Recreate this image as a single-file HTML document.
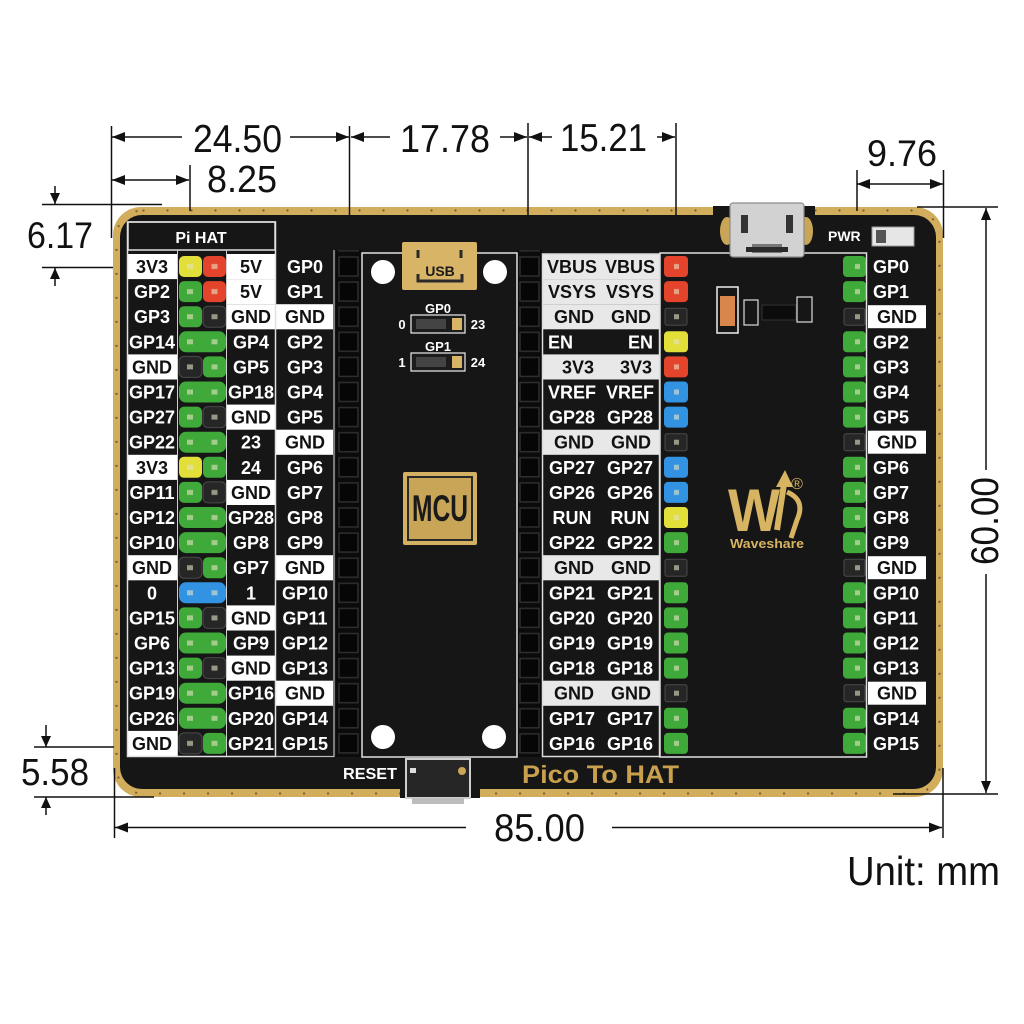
<!DOCTYPE html>
<html><head><meta charset="utf-8"><style>
html,body{margin:0;padding:0;background:#fff;}
svg{display:block}
text{font-family:"Liberation Sans",Arial,sans-serif;}
.w{fill:#fff;font-weight:bold;font-size:18px;text-anchor:middle}
.b{fill:#111;font-weight:bold;font-size:18px;text-anchor:middle}
.s{fill:#fff;font-weight:bold;font-size:18px;text-anchor:start}
.d{fill:#111;font-weight:normal}
.G{fill:#3fa93a}.R{fill:#e5442c}.Y{fill:#e2df3a}.B{fill:#3393e3}.K{fill:#262626;stroke:#4a4a4a;stroke-width:1}
.ln{stroke:#111;stroke-width:1.5;fill:none}
</style></head><body>
<svg width="1024" height="1024" viewBox="0 0 1024 1024" xmlns="http://www.w3.org/2000/svg">
<defs>
<pattern id="sockL" x="336" y="254" width="26" height="25.1" patternUnits="userSpaceOnUse"><rect x="3" y="3" width="19" height="19" fill="#060606" stroke="#2e2e2e" stroke-width="1.5"/></pattern>
<pattern id="sockR" x="517" y="254" width="26" height="25.1" patternUnits="userSpaceOnUse"><rect x="3" y="3" width="19" height="19" fill="#060606" stroke="#2e2e2e" stroke-width="1.5"/></pattern>
<pattern id="jd" x="178" y="254" width="24.5" height="25.1" patternUnits="userSpaceOnUse"><rect x="9" y="10" width="6" height="5" fill="#e6e2c4" opacity="0.6"/></pattern>
<pattern id="pd" x="664" y="254" width="24" height="25.1" patternUnits="userSpaceOnUse"><rect x="10" y="10" width="5" height="5" fill="#e6e2c4" opacity="0.6"/></pattern>
<pattern id="rd" x="843" y="254" width="23" height="25.1" patternUnits="userSpaceOnUse"><rect x="12" y="10" width="5" height="5" fill="#e6e2c4" opacity="0.6"/></pattern>
</defs>

<rect width="1024" height="1024" fill="#fff"/>

<!-- Board -->
<rect x="113" y="207" width="830" height="590" rx="28" fill="#d2ad5c"/>
<rect x="116.5" y="210.5" width="823" height="583" rx="26" fill="none" stroke="#7a6330" stroke-width="2" stroke-dasharray="2 22"/>
<rect x="120" y="215" width="816" height="574" rx="22" fill="#161616"/>
<rect x="713" y="206" width="102" height="12" fill="#161616"/>
<rect x="400" y="784" width="80" height="14" fill="#161616"/>

<!-- Left block frame -->
<rect x="128" y="222" width="147" height="28" fill="#161616" stroke="#e0e0e0" stroke-width="1.5"/>
<text x="201" y="243" style="fill:#fff;font-weight:bold;font-size:16px;text-anchor:middle">Pi HAT</text>

<!-- headers -->
<rect x="336" y="250" width="26" height="507" fill="#0b0b0b"/>
<rect x="336" y="250" width="26" height="507" fill="url(#sockL)"/>
<rect x="517" y="250" width="25" height="507" fill="#0b0b0b"/>
<rect x="517" y="250" width="25" height="507" fill="url(#sockR)"/>

<!-- Rows -->
<g transform="translate(0,254)">
<rect x="128" y="0" width="49" height="25.1" fill="#fff"/><text x="152" y="19" class="b">3V3</text>
<rect x="179" y="2" width="23" height="21" rx="5" class="Y"/><rect x="203" y="2" width="23" height="21" rx="5" class="R"/>
<rect x="227" y="0" width="48" height="25.1" fill="#fff"/><text x="251" y="19" class="b">5V</text>
<text x="305" y="19" class="w">GP0</text>
<rect x="543" y="0" width="116" height="25.1" fill="#e8e8e8"/><text x="572" y="19" class="b">VBUS</text><text x="630" y="19" class="b">VBUS</text>
<rect x="664" y="2" width="24" height="21" rx="4" class="R"/>
<rect x="843" y="2" width="23" height="21" rx="4" class="G"/><text x="873" y="19" class="s">GP0</text>
</g>
<g transform="translate(0,279.1)">
<text x="152" y="19" class="w">GP2</text>
<rect x="179" y="2" width="23" height="21" rx="5" class="G"/><rect x="203" y="2" width="23" height="21" rx="5" class="R"/>
<rect x="227" y="0" width="48" height="25.1" fill="#fff"/><text x="251" y="19" class="b">5V</text>
<text x="305" y="19" class="w">GP1</text>
<rect x="543" y="0" width="116" height="25.1" fill="#e8e8e8"/><text x="572" y="19" class="b">VSYS</text><text x="630" y="19" class="b">VSYS</text>
<rect x="664" y="2" width="24" height="21" rx="4" class="R"/>
<rect x="843" y="2" width="23" height="21" rx="4" class="G"/><text x="873" y="19" class="s">GP1</text>
</g>
<g transform="translate(0,304.2)">
<text x="152" y="19" class="w">GP3</text>
<rect x="179" y="2" width="23" height="21" rx="5" class="G"/><rect x="203" y="2" width="23" height="21" rx="5" class="K"/>
<rect x="227" y="0" width="48" height="25.1" fill="#fff"/><text x="251" y="19" class="b">GND</text>
<rect x="276" y="0" width="57" height="25.1" fill="#fff"/><text x="305" y="19" class="b">GND</text>
<rect x="543" y="0" width="116" height="25.1" fill="#e8e8e8"/><text x="574" y="19" class="b">GND</text><text x="631" y="19" class="b">GND</text>
<rect x="665" y="4" width="22" height="17" rx="2" class="K"/>
<rect x="844" y="4" width="21" height="17" rx="2" class="K"/>
<rect x="868" y="1" width="58" height="23" fill="#fff"/><text x="897" y="19" class="b">GND</text>
</g>
<g transform="translate(0,329.3)">
<text x="152" y="19" class="w">GP14</text>
<rect x="179" y="2" width="47" height="21" rx="7" class="G"/>
<text x="251" y="19" class="w">GP4</text>
<text x="305" y="19" class="w">GP2</text>
<text x="548" y="19" class="s">EN</text><text x="653" y="19" class="w" style="text-anchor:end">EN</text>
<rect x="664" y="2" width="24" height="21" rx="4" class="Y"/>
<rect x="843" y="2" width="23" height="21" rx="4" class="G"/><text x="873" y="19" class="s">GP2</text>
</g>
<g transform="translate(0,354.4)">
<rect x="128" y="0" width="49" height="25.1" fill="#fff"/><text x="152" y="19" class="b">GND</text>
<rect x="179" y="2" width="23" height="21" rx="5" class="K"/><rect x="203" y="2" width="23" height="21" rx="5" class="G"/>
<text x="251" y="19" class="w">GP5</text>
<text x="305" y="19" class="w">GP3</text>
<rect x="543" y="0" width="116" height="25.1" fill="#e8e8e8"/><text x="578" y="19" class="b">3V3</text><text x="636" y="19" class="b">3V3</text>
<rect x="664" y="2" width="24" height="21" rx="4" class="R"/>
<rect x="843" y="2" width="23" height="21" rx="4" class="G"/><text x="873" y="19" class="s">GP3</text>
</g>
<g transform="translate(0,379.5)">
<text x="152" y="19" class="w">GP17</text>
<rect x="179" y="2" width="47" height="21" rx="7" class="G"/>
<text x="251" y="19" class="w">GP18</text>
<text x="305" y="19" class="w">GP4</text>
<text x="572" y="19" class="w">VREF</text><text x="630" y="19" class="w">VREF</text>
<rect x="664" y="2" width="24" height="21" rx="4" class="B"/>
<rect x="843" y="2" width="23" height="21" rx="4" class="G"/><text x="873" y="19" class="s">GP4</text>
</g>
<g transform="translate(0,404.6)">
<text x="152" y="19" class="w">GP27</text>
<rect x="179" y="2" width="23" height="21" rx="5" class="G"/><rect x="203" y="2" width="23" height="21" rx="5" class="K"/>
<rect x="227" y="0" width="48" height="25.1" fill="#fff"/><text x="251" y="19" class="b">GND</text>
<text x="305" y="19" class="w">GP5</text>
<text x="572" y="19" class="w">GP28</text><text x="630" y="19" class="w">GP28</text>
<rect x="664" y="2" width="24" height="21" rx="4" class="B"/>
<rect x="843" y="2" width="23" height="21" rx="4" class="G"/><text x="873" y="19" class="s">GP5</text>
</g>
<g transform="translate(0,429.7)">
<text x="152" y="19" class="w">GP22</text>
<rect x="179" y="2" width="47" height="21" rx="7" class="G"/>
<text x="251" y="19" class="w">23</text>
<rect x="276" y="0" width="57" height="25.1" fill="#fff"/><text x="305" y="19" class="b">GND</text>
<rect x="543" y="0" width="116" height="25.1" fill="#e8e8e8"/><text x="574" y="19" class="b">GND</text><text x="631" y="19" class="b">GND</text>
<rect x="665" y="4" width="22" height="17" rx="2" class="K"/>
<rect x="844" y="4" width="21" height="17" rx="2" class="K"/>
<rect x="868" y="1" width="58" height="23" fill="#fff"/><text x="897" y="19" class="b">GND</text>
</g>
<g transform="translate(0,454.8)">
<rect x="128" y="0" width="49" height="25.1" fill="#fff"/><text x="152" y="19" class="b">3V3</text>
<rect x="179" y="2" width="23" height="21" rx="5" class="Y"/><rect x="203" y="2" width="23" height="21" rx="5" class="G"/>
<text x="251" y="19" class="w">24</text>
<text x="305" y="19" class="w">GP6</text>
<text x="572" y="19" class="w">GP27</text><text x="630" y="19" class="w">GP27</text>
<rect x="664" y="2" width="24" height="21" rx="4" class="B"/>
<rect x="843" y="2" width="23" height="21" rx="4" class="G"/><text x="873" y="19" class="s">GP6</text>
</g>
<g transform="translate(0,479.9)">
<text x="152" y="19" class="w">GP11</text>
<rect x="179" y="2" width="23" height="21" rx="5" class="G"/><rect x="203" y="2" width="23" height="21" rx="5" class="K"/>
<rect x="227" y="0" width="48" height="25.1" fill="#fff"/><text x="251" y="19" class="b">GND</text>
<text x="305" y="19" class="w">GP7</text>
<text x="572" y="19" class="w">GP26</text><text x="630" y="19" class="w">GP26</text>
<rect x="664" y="2" width="24" height="21" rx="4" class="B"/>
<rect x="843" y="2" width="23" height="21" rx="4" class="G"/><text x="873" y="19" class="s">GP7</text>
</g>
<g transform="translate(0,505)">
<text x="152" y="19" class="w">GP12</text>
<rect x="179" y="2" width="47" height="21" rx="7" class="G"/>
<text x="251" y="19" class="w">GP28</text>
<text x="305" y="19" class="w">GP8</text>
<text x="572" y="19" class="w">RUN</text><text x="630" y="19" class="w">RUN</text>
<rect x="664" y="2" width="24" height="21" rx="4" class="Y"/>
<rect x="843" y="2" width="23" height="21" rx="4" class="G"/><text x="873" y="19" class="s">GP8</text>
</g>
<g transform="translate(0,530.1)">
<text x="152" y="19" class="w">GP10</text>
<rect x="179" y="2" width="47" height="21" rx="7" class="G"/>
<text x="251" y="19" class="w">GP8</text>
<text x="305" y="19" class="w">GP9</text>
<text x="572" y="19" class="w">GP22</text><text x="630" y="19" class="w">GP22</text>
<rect x="664" y="2" width="24" height="21" rx="4" class="G"/>
<rect x="843" y="2" width="23" height="21" rx="4" class="G"/><text x="873" y="19" class="s">GP9</text>
</g>
<g transform="translate(0,555.2)">
<rect x="128" y="0" width="49" height="25.1" fill="#fff"/><text x="152" y="19" class="b">GND</text>
<rect x="179" y="2" width="23" height="21" rx="5" class="K"/><rect x="203" y="2" width="23" height="21" rx="5" class="G"/>
<text x="251" y="19" class="w">GP7</text>
<rect x="276" y="0" width="57" height="25.1" fill="#fff"/><text x="305" y="19" class="b">GND</text>
<rect x="543" y="0" width="116" height="25.1" fill="#e8e8e8"/><text x="574" y="19" class="b">GND</text><text x="631" y="19" class="b">GND</text>
<rect x="665" y="4" width="22" height="17" rx="2" class="K"/>
<rect x="844" y="4" width="21" height="17" rx="2" class="K"/>
<rect x="868" y="1" width="58" height="23" fill="#fff"/><text x="897" y="19" class="b">GND</text>
</g>
<g transform="translate(0,580.3)">
<text x="152" y="19" class="w">0</text>
<rect x="179" y="2" width="47" height="21" rx="7" class="B"/>
<text x="251" y="19" class="w">1</text>
<text x="305" y="19" class="w">GP10</text>
<text x="572" y="19" class="w">GP21</text><text x="630" y="19" class="w">GP21</text>
<rect x="664" y="2" width="24" height="21" rx="4" class="G"/>
<rect x="843" y="2" width="23" height="21" rx="4" class="G"/><text x="873" y="19" class="s">GP10</text>
</g>
<g transform="translate(0,605.4)">
<text x="152" y="19" class="w">GP15</text>
<rect x="179" y="2" width="23" height="21" rx="5" class="G"/><rect x="203" y="2" width="23" height="21" rx="5" class="K"/>
<rect x="227" y="0" width="48" height="25.1" fill="#fff"/><text x="251" y="19" class="b">GND</text>
<text x="305" y="19" class="w">GP11</text>
<text x="572" y="19" class="w">GP20</text><text x="630" y="19" class="w">GP20</text>
<rect x="664" y="2" width="24" height="21" rx="4" class="G"/>
<rect x="843" y="2" width="23" height="21" rx="4" class="G"/><text x="873" y="19" class="s">GP11</text>
</g>
<g transform="translate(0,630.5)">
<text x="152" y="19" class="w">GP6</text>
<rect x="179" y="2" width="47" height="21" rx="7" class="G"/>
<text x="251" y="19" class="w">GP9</text>
<text x="305" y="19" class="w">GP12</text>
<text x="572" y="19" class="w">GP19</text><text x="630" y="19" class="w">GP19</text>
<rect x="664" y="2" width="24" height="21" rx="4" class="G"/>
<rect x="843" y="2" width="23" height="21" rx="4" class="G"/><text x="873" y="19" class="s">GP12</text>
</g>
<g transform="translate(0,655.6)">
<text x="152" y="19" class="w">GP13</text>
<rect x="179" y="2" width="23" height="21" rx="5" class="G"/><rect x="203" y="2" width="23" height="21" rx="5" class="K"/>
<rect x="227" y="0" width="48" height="25.1" fill="#fff"/><text x="251" y="19" class="b">GND</text>
<text x="305" y="19" class="w">GP13</text>
<text x="572" y="19" class="w">GP18</text><text x="630" y="19" class="w">GP18</text>
<rect x="664" y="2" width="24" height="21" rx="4" class="G"/>
<rect x="843" y="2" width="23" height="21" rx="4" class="G"/><text x="873" y="19" class="s">GP13</text>
</g>
<g transform="translate(0,680.7)">
<text x="152" y="19" class="w">GP19</text>
<rect x="179" y="2" width="47" height="21" rx="7" class="G"/>
<text x="251" y="19" class="w">GP16</text>
<rect x="276" y="0" width="57" height="25.1" fill="#fff"/><text x="305" y="19" class="b">GND</text>
<rect x="543" y="0" width="116" height="25.1" fill="#e8e8e8"/><text x="574" y="19" class="b">GND</text><text x="631" y="19" class="b">GND</text>
<rect x="665" y="4" width="22" height="17" rx="2" class="K"/>
<rect x="844" y="4" width="21" height="17" rx="2" class="K"/>
<rect x="868" y="1" width="58" height="23" fill="#fff"/><text x="897" y="19" class="b">GND</text>
</g>
<g transform="translate(0,705.8)">
<text x="152" y="19" class="w">GP26</text>
<rect x="179" y="2" width="47" height="21" rx="7" class="G"/>
<text x="251" y="19" class="w">GP20</text>
<text x="305" y="19" class="w">GP14</text>
<text x="572" y="19" class="w">GP17</text><text x="630" y="19" class="w">GP17</text>
<rect x="664" y="2" width="24" height="21" rx="4" class="G"/>
<rect x="843" y="2" width="23" height="21" rx="4" class="G"/><text x="873" y="19" class="s">GP14</text>
</g>
<g transform="translate(0,730.9)">
<rect x="128" y="0" width="49" height="25.1" fill="#fff"/><text x="152" y="19" class="b">GND</text>
<rect x="179" y="2" width="23" height="21" rx="5" class="K"/><rect x="203" y="2" width="23" height="21" rx="5" class="G"/>
<text x="251" y="19" class="w">GP21</text>
<text x="305" y="19" class="w">GP15</text>
<text x="572" y="19" class="w">GP16</text><text x="630" y="19" class="w">GP16</text>
<rect x="664" y="2" width="24" height="21" rx="4" class="G"/>
<rect x="843" y="2" width="23" height="21" rx="4" class="G"/><text x="873" y="19" class="s">GP15</text>
</g>

<!-- dots on pins -->
<rect x="178" y="254" width="49" height="502" fill="url(#jd)"/>
<rect x="664" y="254" width="24" height="502" fill="url(#pd)"/>
<rect x="843" y="254" width="23" height="502" fill="url(#rd)"/>

<!-- frame lines -->
<rect x="127.5" y="222" width="148" height="534.5" fill="none" stroke="#e0e0e0" stroke-width="1.5"/>
<line x1="177.5" y1="250" x2="177.5" y2="756" stroke="#cfcfcf" stroke-width="1"/>
<line x1="226.5" y1="250" x2="226.5" y2="756" stroke="#cfcfcf" stroke-width="1"/>
<line x1="334" y1="250" x2="334" y2="757" stroke="#bdbdbd" stroke-width="1.2"/>
<line x1="275.5" y1="756.5" x2="334" y2="756.5" stroke="#bdbdbd" stroke-width="1.2"/>
<rect x="362" y="253" width="155" height="504" fill="none" stroke="#e0e0e0" stroke-width="1.5"/>
<rect x="542.5" y="254" width="117" height="502.5" fill="none" stroke="#dcdcdc" stroke-width="1.5"/>
<rect x="660" y="253" width="206.5" height="504" fill="none" stroke="#e0e0e0" stroke-width="1.5"/>

<!-- middle: USB label, holes, selectors, MCU -->
<circle cx="383" cy="272" r="12" fill="#fff"/>
<circle cx="495" cy="272" r="12" fill="#fff"/>
<circle cx="383" cy="737" r="12" fill="#fff"/>
<circle cx="494" cy="737" r="12" fill="#fff"/>
<rect x="402" y="242" width="75" height="48" rx="2" fill="#d7b466"/>
<path d="M418,250 v8 M461,250 v8 M418,274 v7 h44 v-7" stroke="#2a2a2a" stroke-width="3" fill="none"/>
<text x="440" y="276" style="fill:#1a1a1a;font-weight:bold;font-size:14px;text-anchor:middle">USB</text>

<text x="438" y="313" style="fill:#fff;font-weight:bold;font-size:13px;text-anchor:middle">GP0</text>
<text x="402" y="329" style="fill:#fff;font-weight:bold;font-size:13px;text-anchor:middle">0</text>
<rect x="411" y="315" width="54" height="18" fill="#1c1c1c" stroke="#eee" stroke-width="1.2"/>
<rect x="416" y="319" width="30" height="10" fill="#444"/>
<rect x="452" y="318" width="10" height="12" fill="#d7b466"/>
<text x="478" y="329" style="fill:#fff;font-weight:bold;font-size:13px;text-anchor:middle">23</text>
<text x="438" y="351" style="fill:#fff;font-weight:bold;font-size:13px;text-anchor:middle">GP1</text>
<text x="402" y="367" style="fill:#fff;font-weight:bold;font-size:13px;text-anchor:middle">1</text>
<rect x="411" y="353" width="54" height="18" fill="#1c1c1c" stroke="#eee" stroke-width="1.2"/>
<rect x="416" y="357" width="30" height="10" fill="#444"/>
<rect x="452" y="356" width="10" height="12" fill="#d7b466"/>
<text x="478" y="367" style="fill:#fff;font-weight:bold;font-size:13px;text-anchor:middle">24</text>

<rect x="403" y="472" width="74" height="73" rx="2" fill="#d4b062"/>
<rect x="408" y="477" width="64" height="63" fill="#c9a657" stroke="#2a2a2a" stroke-width="2"/>
<text transform="translate(440,521) scale(0.82,1.25)" x="0" y="0" style="fill:#1a1a1a;font-weight:bold;font-size:30px;text-anchor:middle">MCU</text>

<!-- top micro USB -->
<ellipse cx="727" cy="231" rx="7" ry="14" fill="#c9a657"/>
<ellipse cx="806" cy="231" rx="7" ry="14" fill="#c9a657"/>
<rect x="730" y="203" width="74" height="54" rx="3" fill="#d2d2d2" stroke="#8a8a8a" stroke-width="1.2"/>
<rect x="741" y="215" width="7" height="18" fill="#333"/>
<rect x="786" y="215" width="7" height="18" fill="#333"/>
<rect x="752" y="244" width="30" height="9" fill="#777"/>
<rect x="746" y="247" width="42" height="5" fill="#2a2a2a"/>

<!-- PWR -->
<text x="828" y="241" style="fill:#fff;font-weight:bold;font-size:14px">PWR</text>
<rect x="872" y="227" width="42" height="19" fill="#e6e6e6" stroke="#999" stroke-width="1"/>
<rect x="876" y="230" width="10" height="13" fill="#555"/>

<!-- components -->
<rect x="717" y="287" width="21" height="46" fill="none" stroke="#eee" stroke-width="1.5"/>
<rect x="720" y="296" width="15" height="30" fill="#d9864c"/>
<rect x="744" y="300" width="14" height="25" fill="none" stroke="#ddd" stroke-width="1.2"/>
<rect x="762" y="305" width="34" height="15" fill="#0c0c0c" stroke="#333"/>
<rect x="797" y="297" width="15" height="25" fill="none" stroke="#ddd" stroke-width="1.2"/>

<!-- Waveshare logo -->
<text x="728" y="531" textLength="52" lengthAdjust="spacingAndGlyphs" style="fill:#d7b461;font-weight:bold;font-size:60px">W</text>
<path d="M777,530 L784,484" stroke="#d7b461" stroke-width="6" fill="none"/>
<polygon points="785,470 776,487 793,487" fill="#d7b461"/>
<path d="M787,492 Q806,500 797,520 L791,538" stroke="#d7b461" stroke-width="5" fill="none"/>
<text x="797" y="489" style="fill:#d7b461;font-size:16px;text-anchor:middle">®</text>
<text x="730" y="548" textLength="74" lengthAdjust="spacingAndGlyphs" style="fill:#d7b461;font-weight:bold;font-size:13px">Waveshare</text>

<!-- bottom: reset, title -->
<text x="343" y="779" textLength="54" lengthAdjust="spacingAndGlyphs" style="fill:#fff;font-weight:bold;font-size:16px">RESET</text>
<rect x="406" y="759" width="64" height="39" fill="#262626" stroke="#cfcfcf" stroke-width="2"/>
<rect x="412" y="798" width="52" height="6" fill="#bdbdbd"/>
<rect x="410" y="768" width="6" height="5" fill="#ddd"/>
<circle cx="462" cy="771" r="4" fill="#c9a657"/>
<text x="522" y="783" textLength="157" lengthAdjust="spacingAndGlyphs" style="fill:#c9a04e;font-weight:bold;font-size:25px">Pico To HAT</text>

<!-- ===== Dimensions ===== -->
<g class="ln">
<line x1="111.5" y1="126" x2="111.5" y2="238"/>
<line x1="112" y1="137" x2="182" y2="137"/>
<line x1="290" y1="137" x2="349" y2="137"/>
<line x1="349.5" y1="126" x2="349.5" y2="215"/>
<line x1="351" y1="137" x2="390" y2="137"/>
<line x1="500" y1="137" x2="527" y2="137"/>
<line x1="528" y1="123" x2="528" y2="216"/>
<line x1="529" y1="137" x2="552" y2="137"/>
<line x1="657" y1="137" x2="675" y2="137"/>
<line x1="676" y1="123" x2="676" y2="216"/>
<line x1="112" y1="180" x2="189" y2="180"/>
<line x1="190" y1="165" x2="190" y2="211"/>
<line x1="857" y1="184" x2="943" y2="184"/>
<line x1="857" y1="170" x2="857" y2="211"/>
<line x1="943.5" y1="170" x2="943.5" y2="238"/>
<line x1="42" y1="204.5" x2="162" y2="204.5"/>
<line x1="42" y1="267.5" x2="113" y2="267.5"/>
<line x1="55" y1="186" x2="55" y2="204"/>
<line x1="55" y1="268" x2="55" y2="286"/>
<line x1="34" y1="747" x2="114" y2="747"/>
<line x1="34" y1="797" x2="154" y2="797"/>
<line x1="46" y1="725" x2="46" y2="747"/>
<line x1="46" y1="797" x2="46" y2="815"/>
<line x1="114.5" y1="768" x2="114.5" y2="838"/>
<line x1="943" y1="768" x2="943" y2="838"/>
<line x1="115" y1="827.5" x2="466" y2="827.5"/>
<line x1="612" y1="827.5" x2="942" y2="827.5"/>
<line x1="917" y1="207" x2="998" y2="207"/>
<line x1="893" y1="794" x2="998" y2="794"/>
<line x1="986" y1="208" x2="986" y2="470"/>
<line x1="986" y1="574" x2="986" y2="793"/>
</g>
<g fill="#111">
<polygon points="112,137 125,132 125,142"/>
<polygon points="349,137 336,132 336,142"/>
<polygon points="351,137 364,132 364,142"/>
<polygon points="527,137 514,132 514,142"/>
<polygon points="529,137 542,132 542,142"/>
<polygon points="675,137 662,132 662,142"/>
<polygon points="112,180 125,175 125,185"/>
<polygon points="189,180 176,175 176,185"/>
<polygon points="857,184 870,179 870,189"/>
<polygon points="943,184 930,179 930,189"/>
<polygon points="55,204 50,193 60,193"/>
<polygon points="55,268 50,279 60,279"/>
<polygon points="46,747 41,736 51,736"/>
<polygon points="46,797 41,808 51,808"/>
<polygon points="115,827.5 128,822.5 128,832.5"/>
<polygon points="942,827.5 929,822.5 929,832.5"/>
<polygon points="986,208 981,220 991,220"/>
<polygon points="986,793 981,781 991,781"/>
</g>
<text class="d" x="193" y="152" font-size="39" textLength="89" lengthAdjust="spacingAndGlyphs">24.50</text>
<text class="d" x="400" y="152" font-size="39" textLength="90" lengthAdjust="spacingAndGlyphs">17.78</text>
<text class="d" x="560" y="151" font-size="39" textLength="87" lengthAdjust="spacingAndGlyphs">15.21</text>
<text class="d" x="207" y="192" font-size="38" textLength="70" lengthAdjust="spacingAndGlyphs">8.25</text>
<text class="d" x="867" y="166" font-size="37" textLength="70" lengthAdjust="spacingAndGlyphs">9.76</text>
<text class="d" x="27" y="248" font-size="37" textLength="66" lengthAdjust="spacingAndGlyphs">6.17</text>
<text class="d" x="21" y="785" font-size="38" textLength="68" lengthAdjust="spacingAndGlyphs">5.58</text>
<text class="d" x="494" y="841" font-size="39" textLength="91" lengthAdjust="spacingAndGlyphs">85.00</text>
<text class="d" transform="translate(998,565) rotate(-90)" x="0" y="0" font-size="39" textLength="88" lengthAdjust="spacingAndGlyphs">60.00</text>
<text class="d" x="847" y="885" font-size="41" textLength="153" lengthAdjust="spacingAndGlyphs">Unit: mm</text>
</svg>
</body></html>
